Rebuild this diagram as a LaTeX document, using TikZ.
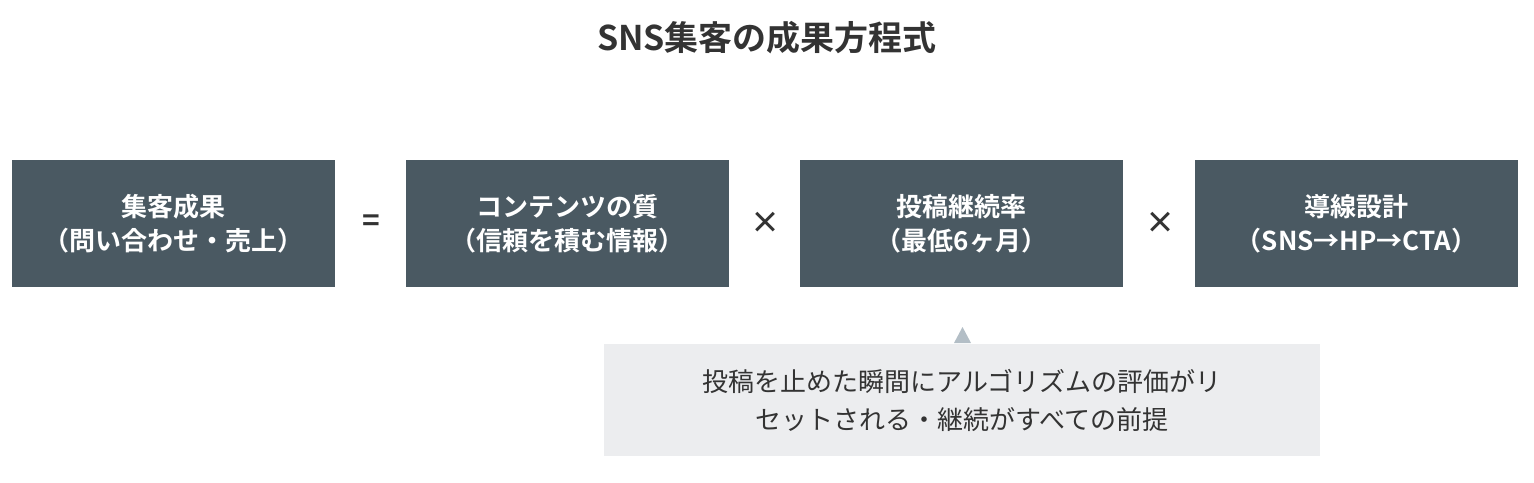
\documentclass[tikz,border=0pt]{standalone}
\usepackage{fontspec}
\setmainfont{Noto Sans CJK JP}
\newfontfamily\cjkbold{Noto Sans CJK JP Bold}
\definecolor{boxgray}{HTML}{4A5962}
\definecolor{notebg}{HTML}{ECEDEF}
\definecolor{tipgray}{HTML}{B3BEC6}
\definecolor{inkgray}{HTML}{333333}
\tikzset{
 term/.style={fill=boxgray, text=white, minimum width=161.5pt, minimum height=63.5pt,
  align=center, font=\cjkbold\fontsize{13}{17}\selectfont, inner sep=0pt},
 op/.style={text=inkgray, font=\cjkbold\fontsize{15}{15}\selectfont}
}
\begin{document}
\begin{tikzpicture}[x=0.5pt,y=-0.5pt]
 \useasboundingbox (0,0) rectangle (1534,482);
 \node [text=inkgray, font=\cjkbold\fontsize{17}{17}\selectfont] (title) at (767,38) {SNS集客の成果方程式};
 \node [term] (result) at (173.5,223.5) {集客成果\\（問い合わせ・売上）};
 \node [term] (quality) at (567.5,223.5) {コンテンツの質\\（信頼を積む情報）};
 \node [term] (rate) at (961.5,223.5) {投稿継続率\\（最低6ヶ月）};
 \node [term] (path) at (1356.5,223.5) {導線設計\\（SNS→HP→CTA）};
 \node [op] (eq) at (371,223) {=};
 \node [op] (times1) at (765,223) {×};
 \node [op] (times2) at (1160,223) {×};
 \node [fill=notebg, minimum width=358pt, minimum height=56pt, inner sep=0pt,
  text=inkgray, align=center, font=\fontsize{13}{19}\selectfont] (note) at (962,400)
  {投稿を止めた瞬間にアルゴリズムの評価がリ\\セットされる・継続がすべての前提};
 \fill [tipgray] (954,343) -- (971,343) -- (962.5,327) -- cycle;
\end{tikzpicture}
\end{document}
